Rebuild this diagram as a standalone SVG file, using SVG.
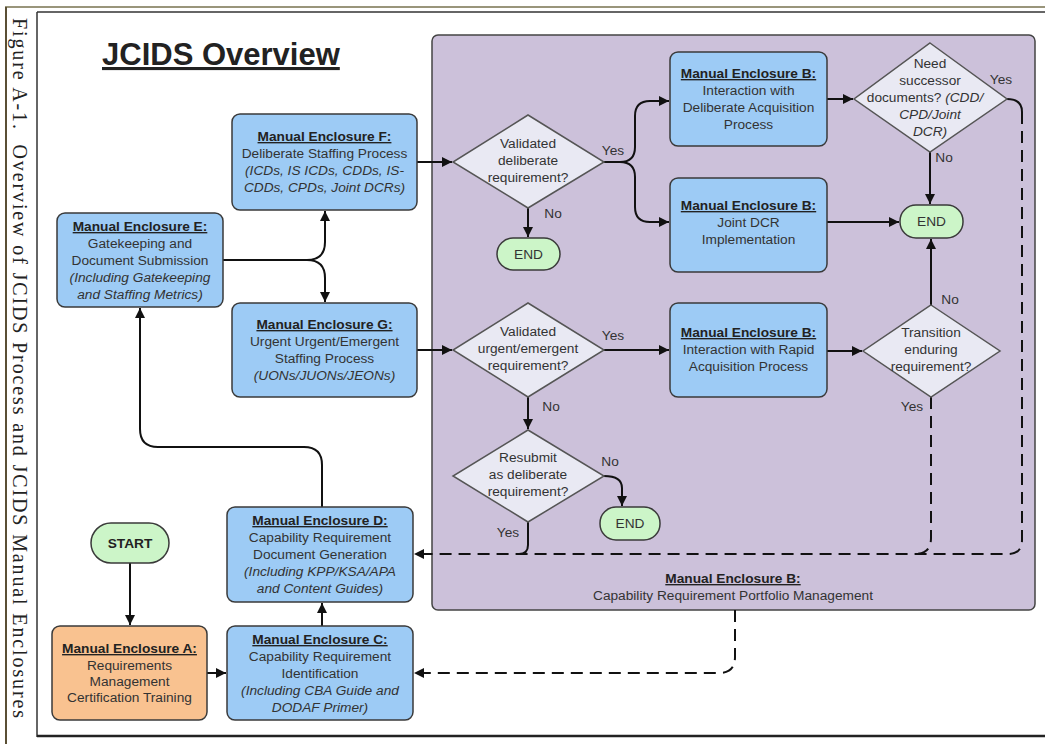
<svg xmlns="http://www.w3.org/2000/svg" width="1045" height="744" viewBox="0 0 1045 744">
  <style>
    text { font-family: "Liberation Sans", Arial, sans-serif; font-size: 13.7px; fill: #333; }
    .c { text-anchor: middle; }
    .h { font-weight: bold; text-decoration: underline; fill: #222; }
    .i { font-style: italic; }
    .lbl { text-anchor: middle; fill: #333; }
    .box { fill: #9DCBF5; stroke: #3a3a3a; stroke-width: 1.5; }
    .orange { fill: #F9C290; stroke: #3a3a3a; stroke-width: 1.5; }
    .pill { fill: #CCF5C8; stroke: #3a3a3a; stroke-width: 1.5; }
    .dia { fill: #E9E9F3; stroke: #555; stroke-width: 1.5; }
    .ln { fill: none; stroke: #111; stroke-width: 2; }
    .dash { fill: none; stroke: #111; stroke-width: 2; stroke-dasharray: 12 7; }
  </style>
  <defs>
    <marker id="arr" markerUnits="userSpaceOnUse" markerWidth="11" markerHeight="10" refX="10" refY="5" orient="auto">
      <path d="M0,0 L10,5 L0,10 z" fill="#111"/>
    </marker>
  </defs>

  <rect width="1045" height="744" fill="#fff"/>

  <!-- page frame -->
  <g id="frame">
    <line x1="5" y1="7" x2="1045" y2="7" stroke="#77724f" stroke-width="1.5"/>
    <line x1="6" y1="7" x2="6" y2="744" stroke="#5a4f35" stroke-width="2"/>
    <line x1="37" y1="12" x2="1045" y2="12" stroke="#333" stroke-width="1.5"/>
    <line x1="37" y1="12" x2="37" y2="737" stroke="#333" stroke-width="1.5"/>
    <line x1="37" y1="736" x2="1045" y2="736" stroke="#222" stroke-width="2.5"/>
  </g>

  <!-- side caption -->
  <text transform="translate(13,18) rotate(90)" xml:space="preserve" style="font-family: 'Liberation Serif', 'Times New Roman', serif; font-size: 20px; fill: #222; white-space: pre;" textLength="700" lengthAdjust="spacing">Figure A-1.  Overview of JCIDS Process and JCIDS Manual Enclosures</text>

  <!-- title -->
  <text id="title" x="102" y="65" style="font-size: 31px; font-weight: bold; text-decoration: underline; fill: #222;">JCIDS Overview</text>

  <!-- portfolio management container -->
  <g id="encl-b-portfolio">
    <rect x="432" y="35" width="603" height="575" rx="6" fill="#CCC1DA" stroke="#444" stroke-width="1.5"/>
    <text class="c h" x="733" y="583">Manual Enclosure B:</text>
    <text class="c" x="733" y="600">Capability Requirement Portfolio Management</text>
  </g>

  <!-- connectors -->
  <g id="connectors">
    <path class="ln" d="M130,563 V625" marker-end="url(#arr)"/>
    <path class="ln" d="M207,673 H226" marker-end="url(#arr)"/>
    <path class="ln" d="M322,626 V603" marker-end="url(#arr)"/>
    <path class="ln" d="M322,507 V465 Q322,447 304,447 H158 Q140,447 140,429 V308" marker-end="url(#arr)"/>
    <path class="ln" d="M223,260 H307 Q325,260 325,242 V211" marker-end="url(#arr)"/>
    <path class="ln" d="M307,260 Q325,260 325,278 V302" marker-end="url(#arr)"/>
    <path class="ln" d="M417,162 H452" marker-end="url(#arr)"/>
    <path class="ln" d="M417,350 H452" marker-end="url(#arr)"/>
    <path class="ln" d="M604,162 H620 Q635,162 635,147 V116 Q635,101 650,101 H669" marker-end="url(#arr)"/>
    <path class="ln" d="M620,162 Q635,162 635,177 V207 Q635,222 650,222 H669" marker-end="url(#arr)"/>
    <path class="ln" d="M528,208 V237" marker-end="url(#arr)"/>
    <path class="ln" d="M827,99 H853" marker-end="url(#arr)"/>
    <path class="ln" d="M827,222 H899" marker-end="url(#arr)"/>
    <path class="ln" d="M930,152 V204" marker-end="url(#arr)"/>
    <path class="ln" d="M604,350 H669" marker-end="url(#arr)"/>
    <path class="ln" d="M827,351 H862" marker-end="url(#arr)"/>
    <path class="ln" d="M931,305 V239" marker-end="url(#arr)"/>
    <path class="ln" d="M528,397 V429" marker-end="url(#arr)"/>
    <path class="ln" d="M604,476 Q622,476 622,488 V506" marker-end="url(#arr)"/>
    <path class="ln" d="M528,522 V545 Q528,554 519,554"/>
    <path class="ln" d="M1007,99 Q1022,99 1022,112"/>
    <path class="dash" d="M1022,112 V540 Q1022,554 1008,554 H414" marker-end="url(#arr)"/>
    <path class="dash" d="M931,397 V538 Q931,554 915,554"/>
    <path class="dash" d="M735,610 V657 Q735,673 719,673 H414" marker-end="url(#arr)"/>
  </g>

  <!-- branch labels -->
  <g id="labels">
    <text class="lbl" x="613" y="155">Yes</text>
    <text class="lbl" x="553" y="218">No</text>
    <text class="lbl" x="1001" y="84">Yes</text>
    <text class="lbl" x="944" y="162">No</text>
    <text class="lbl" x="613" y="340">Yes</text>
    <text class="lbl" x="551" y="411">No</text>
    <text class="lbl" x="950" y="304">No</text>
    <text class="lbl" x="912" y="411">Yes</text>
    <text class="lbl" x="610" y="466">No</text>
    <text class="lbl" x="508" y="537">Yes</text>
  </g>

  <g id="encl-f">
    <rect class="box" x="232" y="114" width="185" height="96" rx="8"/>
    <text class="c h" x="324.5" y="141">Manual Enclosure F:</text>
    <text class="c" x="324.5" y="158">Deliberate Staffing Process</text>
    <text class="c i" x="324.5" y="175">(ICDs, IS ICDs, CDDs, IS-</text>
    <text class="c i" x="324.5" y="192">CDDs, CPDs, Joint DCRs)</text>
  </g>

  <g id="encl-e">
    <rect class="box" x="57" y="213" width="166" height="94" rx="8"/>
    <text class="c h" x="140" y="231">Manual Enclosure E:</text>
    <text class="c" x="140" y="248">Gatekeeping and</text>
    <text class="c" x="140" y="265">Document Submission</text>
    <text class="c i" x="140" y="282">(Including Gatekeeping</text>
    <text class="c i" x="140" y="299">and Staffing Metrics)</text>
  </g>

  <g id="encl-g">
    <rect class="box" x="232" y="303" width="185" height="94" rx="8"/>
    <text class="c h" x="324.5" y="329">Manual Enclosure G:</text>
    <text class="c" x="324.5" y="346">Urgent Urgent/Emergent</text>
    <text class="c" x="324.5" y="363">Staffing Process</text>
    <text class="c i" x="324.5" y="380">(UONs/JUONs/JEONs)</text>
  </g>

  <g id="dec-deliberate">
    <polygon class="dia" points="528,115 604,162 528,208 453,162"/>
    <text class="c" x="528" y="148">Validated</text>
    <text class="c" x="528" y="165">deliberate</text>
    <text class="c" x="528" y="182">requirement?</text>
  </g>

  <g id="end-1">
    <rect class="pill" x="497" y="238" width="63" height="32" rx="16"/>
    <text class="c" x="528.5" y="259">END</text>
  </g>

  <g id="encl-b-deliberate-acq">
    <rect class="box" x="670" y="52" width="157" height="94" rx="8"/>
    <text class="c h" x="748.5" y="78">Manual Enclosure B:</text>
    <text class="c" x="748.5" y="95">Interaction with</text>
    <text class="c" x="748.5" y="112">Deliberate Acquisition</text>
    <text class="c" x="748.5" y="129">Process</text>
  </g>

  <g id="encl-b-joint-dcr">
    <rect class="box" x="670" y="178" width="157" height="94" rx="8"/>
    <text class="c h" x="748.5" y="210">Manual Enclosure B:</text>
    <text class="c" x="748.5" y="227">Joint DCR</text>
    <text class="c" x="748.5" y="244">Implementation</text>
  </g>

  <g id="dec-successor">
    <polygon class="dia" points="930,43 1007,99 930,152 854,99"/>
    <text class="c" x="930" y="68">Need</text>
    <text class="c" x="930" y="85">successor</text>
    <text class="c" x="925" y="102">documents? <tspan class="i">(CDD/</tspan></text>
    <text class="c i" x="930" y="119">CPD/Joint</text>
    <text class="c i" x="930" y="136">DCR)</text>
  </g>

  <g id="end-2">
    <rect class="pill" x="900" y="205" width="63" height="33" rx="16"/>
    <text class="c" x="931.5" y="226">END</text>
  </g>

  <g id="dec-urgent">
    <polygon class="dia" points="528,303 604,350 528,397 453,350"/>
    <text class="c" x="528" y="336">Validated</text>
    <text class="c" x="528" y="353">urgent/emergent</text>
    <text class="c" x="528" y="370">requirement?</text>
  </g>

  <g id="encl-b-rapid-acq">
    <rect class="box" x="670" y="303" width="157" height="94" rx="8"/>
    <text class="c h" x="748.5" y="337">Manual Enclosure B:</text>
    <text class="c" x="748.5" y="354">Interaction with Rapid</text>
    <text class="c" x="748.5" y="371">Acquisition Process</text>
  </g>

  <g id="dec-transition">
    <polygon class="dia" points="931,305 1000,351 931,397 863,351"/>
    <text class="c" x="931" y="337">Transition</text>
    <text class="c" x="931" y="354">enduring</text>
    <text class="c" x="931" y="371">requirement?</text>
  </g>

  <g id="dec-resubmit">
    <polygon class="dia" points="528,430 604,476 528,522 453,476"/>
    <text class="c" x="528" y="462">Resubmit</text>
    <text class="c" x="528" y="479">as deliberate</text>
    <text class="c" x="528" y="496">requirement?</text>
  </g>

  <g id="end-3">
    <rect class="pill" x="600" y="507" width="60" height="33" rx="16"/>
    <text class="c" x="630" y="528">END</text>
  </g>

  <g id="start">
    <rect class="pill" x="91" y="523" width="78" height="40" rx="20"/>
    <text class="c" x="130" y="548" style="font-weight: bold; fill: #222;">START</text>
  </g>

  <g id="encl-d">
    <rect class="box" x="227" y="507" width="186" height="95" rx="8"/>
    <text class="c h" x="320" y="525">Manual Enclosure D:</text>
    <text class="c" x="320" y="542">Capability Requirement</text>
    <text class="c" x="320" y="559">Document Generation</text>
    <text class="c i" x="320" y="576">(Including KPP/KSA/APA</text>
    <text class="c i" x="320" y="593">and Content Guides)</text>
  </g>

  <g id="encl-c">
    <rect class="box" x="227" y="626" width="186" height="94" rx="8"/>
    <text class="c h" x="320" y="644">Manual Enclosure C:</text>
    <text class="c" x="320" y="661">Capability Requirement</text>
    <text class="c" x="320" y="678">Identification</text>
    <text class="c i" x="320" y="695">(Including CBA Guide and</text>
    <text class="c i" x="320" y="712">DODAF Primer)</text>
  </g>

  <g id="encl-a">
    <rect class="orange" x="52" y="626" width="155" height="94" rx="8"/>
    <text class="c h" x="129.5" y="653">Manual Enclosure A:</text>
    <text class="c" x="129.5" y="670">Requirements</text>
    <text class="c" x="129.5" y="686">Management</text>
    <text class="c" x="129.5" y="702">Certification Training</text>
  </g>
</svg>
